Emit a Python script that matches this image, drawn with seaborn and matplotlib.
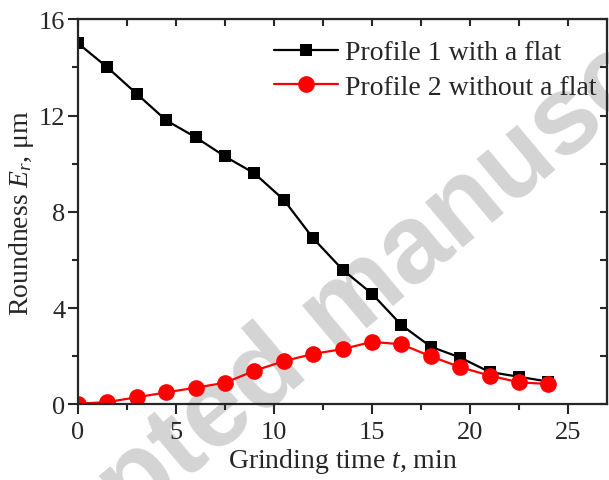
import matplotlib
matplotlib.use("Agg")
import matplotlib.pyplot as plt
import seaborn as sns
import pandas as pd
from matplotlib.ticker import MultipleLocator

time_min = [0, 1.5, 3, 4.5, 6, 7.5, 9, 10.5, 12, 13.5, 15, 16.5, 18, 19.5, 21, 22.5, 24]
profile1 = [15.0, 14.0, 12.9, 11.8, 11.1, 10.3, 9.6, 8.5, 6.9, 5.6, 4.6, 3.3, 2.4, 1.95, 1.35, 1.15, 0.95]
profile2 = [0.03, 0.1, 0.3, 0.5, 0.7, 0.9, 1.4, 1.8, 2.1, 2.3, 2.6, 2.5, 2.0, 1.55, 1.2, 0.92, 0.85]
series_names = ["Profile 1 with a flat", "Profile 2 without a flat"]
x_ticks = [0, 5, 10, 15, 20, 25]
y_ticks = [0, 4, 8, 12, 16]

sns.set_style("ticks")
plt.rcParams['font.family'] = ['Liberation Serif', 'DejaVu Serif']
plt.rcParams['mathtext.fontset'] = 'custom'
plt.rcParams['mathtext.rm'] = 'Liberation Serif'
plt.rcParams['mathtext.it'] = 'Liberation Serif:italic'

df = pd.concat([
    pd.DataFrame({"t": time_min, "E": profile1, "series": series_names[0]}),
    pd.DataFrame({"t": time_min, "E": profile2, "series": series_names[1]}),
])

fig = plt.figure(figsize=(6.09, 4.81), dpi=100)
ax = fig.add_axes([0.128, 0.157, 0.869, 0.801])
ax.set_facecolor('none')

fig.text(0.562, 0.353, "Accepted manuscript", family="Liberation Sans", weight="bold",
         fontsize=80, color="#d4d4d4", rotation=40, ha="center", va="center",
         rotation_mode="anchor", zorder=-5)

sns.lineplot(data=df, x="t", y="E", hue="series", style="series",
             palette={series_names[0]: "black", series_names[1]: "#ff0000"},
             markers={series_names[0]: "s", series_names[1]: "o"},
             dashes=False, ax=ax, linewidth=1.6, markeredgewidth=0)
for ln in ax.get_lines():
    if ln.get_marker() == "s":
        ln.set_markersize(9)
    elif ln.get_marker() == "o":
        ln.set_markersize(12)

ax.set_xlim(0, 27)
ax.set_ylim(0, 16)
ax.set_xticks(x_ticks)
ax.set_yticks(y_ticks)
ax.xaxis.set_minor_locator(MultipleLocator(2.5))
ax.yaxis.set_minor_locator(MultipleLocator(2))
ax.tick_params(which="major", direction="out", length=7, width=1.5, labelsize=19, pad=2)
ax.tick_params(axis="x", which="major", pad=5)
ax.tick_params(which="minor", direction="out", length=4, width=1.5)
for s in ax.spines.values():
    s.set_linewidth(1.6)
    s.set_visible(True)

top = ax.secondary_xaxis('top')
top.set_xticks(x_ticks)
top.xaxis.set_minor_locator(MultipleLocator(2.5))
top.tick_params(which="both", direction="in", length=5, width=1.5, labeltop=False)
top.set_xticklabels([])
right = ax.secondary_yaxis('right')
right.set_yticks(y_ticks)
right.yaxis.set_minor_locator(MultipleLocator(2))
right.tick_params(which="both", direction="in", length=5, width=1.5, labelright=False)
right.set_yticklabels([])

ax.set_xlabel(r"Grinding time $t$, min", fontsize=20, labelpad=2)
ax.set_ylabel(r"Roundness $E_r$, μm", fontsize=20, labelpad=2)

handles, labels = ax.get_legend_handles_labels()
leg = ax.legend(handles, labels, loc="upper right", bbox_to_anchor=(1.0, 0.975),
                frameon=False, fontsize=20,
                handlelength=2.3, handletextpad=0.25, borderaxespad=0.1, labelspacing=0.32,
                borderpad=0.3)
for h in leg.legend_handles:
    if h.get_marker() == "s":
        h.set_markersize(9)
    else:
        h.set_markersize(12)

fig.savefig("out.png", dpi=100)
